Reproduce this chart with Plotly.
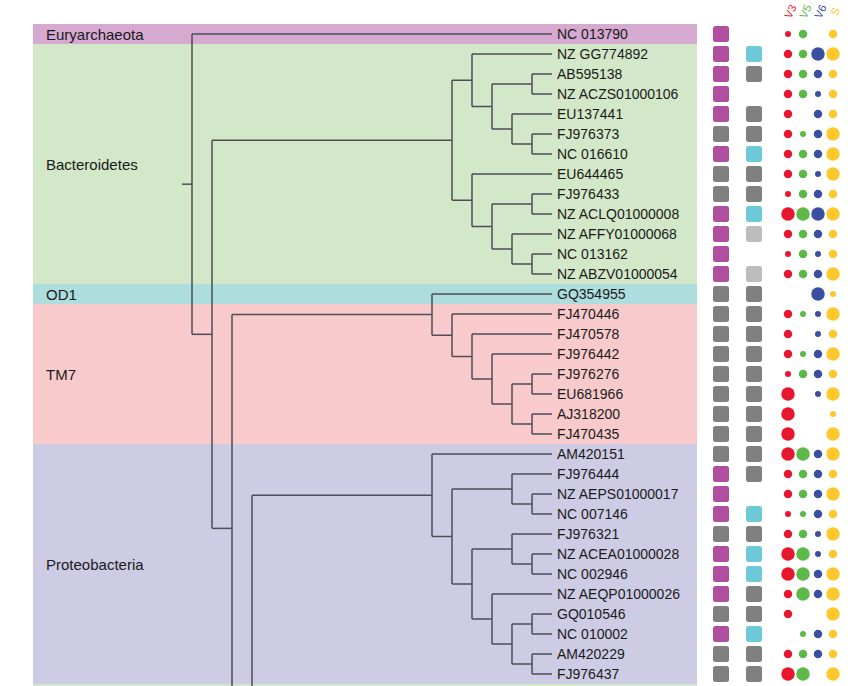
import plotly.graph_objects as go

# ---------------- data ----------------
leaf_names = [
    "NC 013790", "NZ GG774892", "AB595138", "NZ ACZS01000106", "EU137441",
    "FJ976373", "NC 016610", "EU644465", "FJ976433", "NZ ACLQ01000008",
    "NZ AFFY01000068", "NC 013162", "NZ ABZV01000054", "GQ354955",
    "FJ470446", "FJ470578", "FJ976442", "FJ976276", "EU681966", "AJ318200",
    "FJ470435", "AM420151", "FJ976444", "NZ AEPS01000017", "NC 007146",
    "FJ976321", "NZ ACEA01000028", "NC 002946", "NZ AEQP01000026",
    "GQ010546", "NC 010002", "AM420229", "FJ976437",
]

group_names = ["Euryarchaeota", "Bacteroidetes", "OD1", "TM7", "Proteobacteria", ""]
group_first = [0, 1, 13, 14, 21, 33]
group_last = [0, 12, 13, 20, 32, 40]
group_label_row = [0, 6.5, 13, 17, 26.5, None]
group_colors = ["#d6a9d0", "#d2e8c8", "#aedddd", "#f8cacc", "#cdcce4", "#d2e8c8"]

# square columns: P purple, C cyan, G grey, L light grey, "" none
col1 = ["P", "P", "P", "P", "P", "G", "P", "G", "G", "P", "P", "P", "P", "G",
        "G", "G", "G", "G", "G", "G", "G", "G", "P", "P", "P", "G", "P", "P",
        "P", "G", "P", "G", "G"]
col2 = ["", "C", "G", "", "G", "G", "C", "G", "G", "C", "L", "", "L", "G",
        "G", "G", "G", "G", "G", "G", "G", "G", "G", "", "C", "G", "C", "C",
        "G", "G", "C", "G", "G"]

# dot size classes (0 = absent, 1 small, 2 medium, 3 large)
v3 = [1, 2, 2, 2, 2, 2, 2, 2, 1, 3, 2, 1, 2, 0, 2, 2, 2, 1, 3, 3, 3, 3, 2, 2, 1,
      2, 3, 3, 2, 2, 0, 2, 3]
v5 = [2, 2, 2, 2, 0, 1, 2, 2, 2, 3, 2, 2, 2, 0, 1, 0, 1, 2, 0, 0, 0, 3, 2, 2, 1,
      2, 3, 3, 3, 0, 1, 2, 3]
v6 = [0, 3, 2, 1, 2, 2, 2, 1, 2, 3, 2, 1, 2, 3, 1, 1, 2, 2, 1, 0, 0, 2, 2, 2, 2,
      1, 1, 2, 2, 0, 2, 2, 0]
s_ = [2, 3, 2, 2, 2, 3, 3, 3, 2, 3, 2, 2, 3, 1, 3, 2, 3, 2, 3, 1, 3, 3, 2, 3, 2,
      3, 2, 3, 3, 3, 2, 2, 3]
dot_series = [("V3", v3, "#e8162e"), ("V5", v5, "#5db947"),
              ("V6", v6, "#3a4fa0"), ("S", s_, "#fdc82c")]

# tree topology (cladogram); the last clade continues below the visible area
HIDDEN = {"row": 47.75, "height": 14}
bacteroidetes = (
    ("NZ GG774892", (("AB595138", "NZ ACZS01000106"),
                     ("EU137441", ("FJ976373", "NC 016610")))),
    ("EU644465", (("FJ976433", "NZ ACLQ01000008"),
                  ("NZ AFFY01000068", ("NC 013162", "NZ ABZV01000054")))),
)
tm7_od1 = ("GQ354955",
           ("FJ470446", ("FJ470578", ("FJ976442",
                                      (("FJ976276", "EU681966"),
                                       ("AJ318200", "FJ470435"))))))
proteo = ("AM420151",
          (("FJ976444", ("NZ AEPS01000017", "NC 007146")),
           (("FJ976321", ("NZ ACEA01000028", "NC 002946")),
            ("NZ AEQP01000026", (("GQ010546", "NC 010002"),
                                 ("AM420229", "FJ976437"))))))
tree = ("NC 013790", (bacteroidetes, (tm7_od1, (proteo, HIDDEN))))

# ---------------- layout constants ----------------
W, H = 857, 686
ROW0_PX, ROW_PX = 34, 20
TIP_X, LEVEL = 552, 20
BAND_X0, BAND_X1 = 33, 697
SQ_X = [721, 754]
SQ_HALF = 8
DOT_X = [788, 803, 818, 833]
DOT_SIZE = {1: 6, 2: 8.5, 3: 13.5}
SQ_COLORS = {"P": "#b04ea0", "C": "#6ecad9", "G": "#808080", "L": "#bdbdbd"}
LINE_COLOR = "#4d4d5a"
FONT = "Liberation Sans, Arial, sans-serif"

row_of = {n: i for i, n in enumerate(leaf_names)}
y_top = -ROW0_PX / ROW_PX
y_bot = (H - ROW0_PX) / ROW_PX

# ---------------- tree geometry ----------------
xs, ys = [], []


def xpos(h):
    return TIP_X - LEVEL * h


def walk(node):
    if isinstance(node, str):
        return row_of[node], 0
    if isinstance(node, dict):
        return node["row"], node["height"]
    res = [walk(c) for c in node]
    h = 1 + max(r[1] for r in res)
    px = xpos(h)
    for cy, ch in res:
        xs.extend([px, xpos(ch), None])
        ys.extend([cy, cy, None])
    cys = [r[0] for r in res]
    xs.extend([px, px, None])
    ys.extend([min(cys), max(cys), None])
    return (min(cys) + max(cys)) / 2, h


root_y, root_h = walk(tree)
xs.extend([xpos(root_h) - LEVEL / 2, xpos(root_h), None])
ys.extend([root_y, root_y, None])

fig = go.Figure()

# background bands
shapes = []
for name, a, b, c in zip(group_names, group_first, group_last, group_colors):
    shapes.append(dict(type="rect", xref="x", yref="y", x0=BAND_X0, x1=BAND_X1,
                       y0=a - 0.5, y1=b + 0.5, fillcolor=c, line_width=0,
                       layer="below"))

# rounded squares
r = 2.5
ry = r / ROW_PX
hy = SQ_HALF / ROW_PX
for col, cx in zip([col1, col2], SQ_X):
    for i, cat in enumerate(col):
        if not cat:
            continue
        x0, x1 = cx - SQ_HALF, cx + SQ_HALF
        y0, y1 = i - hy, i + hy
        path = (f"M{x0 + r},{y0} L{x1 - r},{y0} Q{x1},{y0} {x1},{y0 + ry} "
                f"L{x1},{y1 - ry} Q{x1},{y1} {x1 - r},{y1} L{x0 + r},{y1} "
                f"Q{x0},{y1} {x0},{y1 - ry} L{x0},{y0 + ry} Q{x0},{y0} {x0 + r},{y0} Z")
        shapes.append(dict(type="path", xref="x", yref="y", path=path,
                           fillcolor=SQ_COLORS[cat], line_width=0))

fig.add_trace(go.Scatter(x=xs, y=ys, mode="lines",
                         line=dict(color=LINE_COLOR, width=1.5),
                         hoverinfo="skip", showlegend=False))

for (name, vals, color), dx in zip(dot_series, DOT_X):
    rows = [i for i, v in enumerate(vals) if v > 0]
    fig.add_trace(go.Scatter(
        x=[dx] * len(rows), y=rows, mode="markers", name=name,
        marker=dict(color=color, size=[DOT_SIZE[vals[i]] for i in rows],
                    opacity=1, line_width=0),
        showlegend=False))

annotations = []
for i, n in enumerate(leaf_names):
    annotations.append(dict(x=TIP_X + 3, y=i, xref="x", yref="y", text=n,
                            showarrow=False, xanchor="left", yanchor="middle",
                            font=dict(family=FONT, size=14, color="#1a1a1a")))
for name, lr in zip(group_names, group_label_row):
    if lr is None or not name:
        continue
    annotations.append(dict(x=BAND_X0 + 11, y=lr, xref="x", yref="y", text=name,
                            showarrow=False, xanchor="left", yanchor="middle",
                            font=dict(family=FONT, size=15, color="#1a1a1a")))
for (name, vals, color), dx in zip(dot_series, DOT_X):
    annotations.append(dict(x=dx + 2, y=-1.1, xref="x", yref="y",
                            text=name, showarrow=False, textangle=-65,
                            xanchor="center", yanchor="middle",
                            font=dict(family=FONT, size=11, color=color)))

fig.update_layout(
    width=W, height=H, margin=dict(l=0, r=0, t=0, b=0),
    paper_bgcolor="white", plot_bgcolor="white",
    shapes=shapes, annotations=annotations,
    xaxis=dict(range=[0, W], visible=False, fixedrange=True),
    yaxis=dict(range=[y_bot, y_top], visible=False, fixedrange=True),
)

fig.write_html("out.html",
               config={"displayModeBar": False},
               post_script="document.body.style.margin='0px';")
